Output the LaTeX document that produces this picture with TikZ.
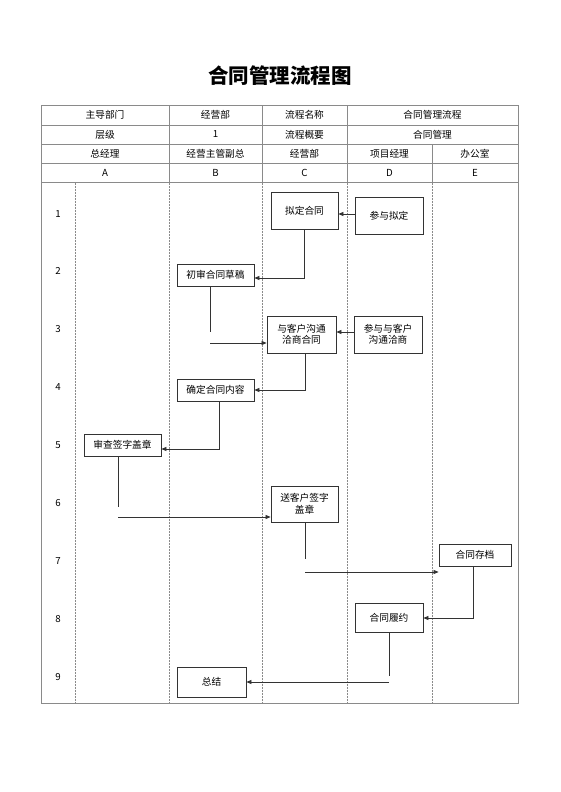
\documentclass[tikz,border=0pt]{standalone}
\usepackage{fontspec}
\setmainfont{Noto Sans CJK SC}
\usetikzlibrary{arrows.meta}
\definecolor{grid}{HTML}{8A8A8A}
\definecolor{ink}{HTML}{333333}
\begin{document}
\begin{tikzpicture}[x=1pt,y=-1pt,
  every node/.style={font=\fontsize{9.7}{11.5}\selectfont, text=black},
  cell/.style={inner sep=0pt},
  box/.style={draw=ink, line width=0.8pt, fill=white, align=center, inner sep=1pt},
  arr/.style={draw=ink, line width=0.7pt, -{Triangle[length=5pt,width=4pt]}},
  ln/.style={draw=ink, line width=0.7pt},
  gridline/.style={draw=grid, line width=0.6pt},
  dotline/.style={draw=grid, line width=0.5pt, densely dotted}]
\useasboundingbox (0,0) rectangle (560,792);
% title
\node[font=\fontsize{20.5}{24}\selectfont\bfseries] (title) at (280,76) {合同管理流程图};
% header grid
\draw[gridline] (41,105) rectangle (518,703);
\foreach \yy in {125,144,163,182.5} \draw[gridline] (41,\yy) -- (518,\yy);
\foreach \xx in {169,262,347} \draw[gridline] (\xx,105) -- (\xx,182.5);
\draw[gridline] (432,144) -- (432,182.5);
\foreach \xx in {75,169,262,347,432} \draw[dotline] (\xx,182.5) -- (\xx,703);
% header text
\node[cell] (h11) at (105,115) {主导部门};
\node[cell] (h12) at (215.5,115) {经营部};
\node[cell] (h13) at (304.5,115) {流程名称};
\node[cell] (h14) at (432.5,115) {合同管理流程};
\node[cell] (h21) at (105,134.5) {层级};
\node[cell] (h22) at (215.5,134.5) {1};
\node[cell] (h23) at (304.5,134.5) {流程概要};
\node[cell] (h24) at (432.5,134.5) {合同管理};
\node[cell] (h31) at (105,153.5) {总经理};
\node[cell] (h32) at (215.5,153.5) {经营主管副总};
\node[cell] (h33) at (304.5,153.5) {经营部};
\node[cell] (h34) at (389.5,153.5) {项目经理};
\node[cell] (h35) at (475,153.5) {办公室};
\node[cell] (h41) at (105,173) {A};
\node[cell] (h42) at (215.5,173) {B};
\node[cell] (h43) at (304.5,173) {C};
\node[cell] (h44) at (389.5,173) {D};
\node[cell] (h45) at (475,173) {E};
% row numbers
\foreach \i/\yy in {1/214,2/271,3/329,4/387,5/445,6/503,7/561,8/619,9/677}
  \node[cell] (r\i) at (58,\yy) {\i};
% boxes
\node[box, minimum width=67pt, minimum height=37pt] (n1) at (304.5,210.5) {拟定合同};
\node[box, minimum width=68pt, minimum height=37pt] (n2) at (389,215.5) {参与拟定};
\node[box, minimum width=77pt, minimum height=22pt] (n3) at (215.5,275) {初审合同草稿};
\node[box, minimum width=69pt, minimum height=37pt] (n4) at (301.5,334.5) {与客户沟通\\洽商合同};
\node[box, minimum width=68pt, minimum height=37pt] (n5) at (388,334.5) {参与与客户\\沟通洽商};
\node[box, minimum width=77pt, minimum height=22pt] (n6) at (215.5,390) {确定合同内容};
\node[box, minimum width=77pt, minimum height=22pt] (n7) at (122.5,445) {审查签字盖章};
\node[box, minimum width=67pt, minimum height=36pt] (n8) at (304.5,504) {送客户签字\\盖章};
\node[box, minimum width=72pt, minimum height=22pt] (n9) at (475,555) {合同存档};
\node[box, minimum width=68pt, minimum height=29pt] (n10) at (389,617.5) {合同履约};
\node[box, minimum width=69pt, minimum height=30pt] (n11) at (211.5,682) {总结};
% connector helper coordinates
\coordinate (a1) at (304,278);
\coordinate (g1a) at (210,332);
\coordinate (g1b) at (210,343);
\coordinate (a2) at (305,390);
\coordinate (a3) at (219,449);
\coordinate (g2a) at (118,507);
\coordinate (g2b) at (118,517);
\coordinate (g3a) at (305,559);
\coordinate (g3b) at (305,572);
\coordinate (a4) at (473,618);
\coordinate (g4a) at (389,676);
\coordinate (g4b) at (389,682);
% connectors
\draw[arr] (n2.west |- {(0,214)}) -- (n1.east |- {(0,214)});
\draw[arr] (n1.south -| a1) -- (a1) -- (n3.east |- a1);
\draw[ln] (n3.south -| g1a) -- (g1a);
\draw[arr] (g1b) -- (n4.west |- g1b);
\draw[arr] (n5.west |- {(0,332)}) -- (n4.east |- {(0,332)});
\draw[arr] (n4.south -| a2) -- (a2) -- (n6.east |- a2);
\draw[arr] (n6.south -| a3) -- (a3) -- (n7.east |- a3);
\draw[ln] (n7.south -| g2a) -- (g2a);
\draw[arr] (g2b) -- (n8.west |- g2b);
\draw[ln] (n8.south -| g3a) -- (g3a);
\draw[arr] (g3b) -- (n9.west |- g3b);
\draw[arr] (n9.south -| a4) -- (a4) -- (n10.east |- a4);
\draw[ln] (n10.south -| g4a) -- (g4a);
\draw[arr] (g4b) -- (n11.east |- g4b);
\end{tikzpicture}
\end{document}
